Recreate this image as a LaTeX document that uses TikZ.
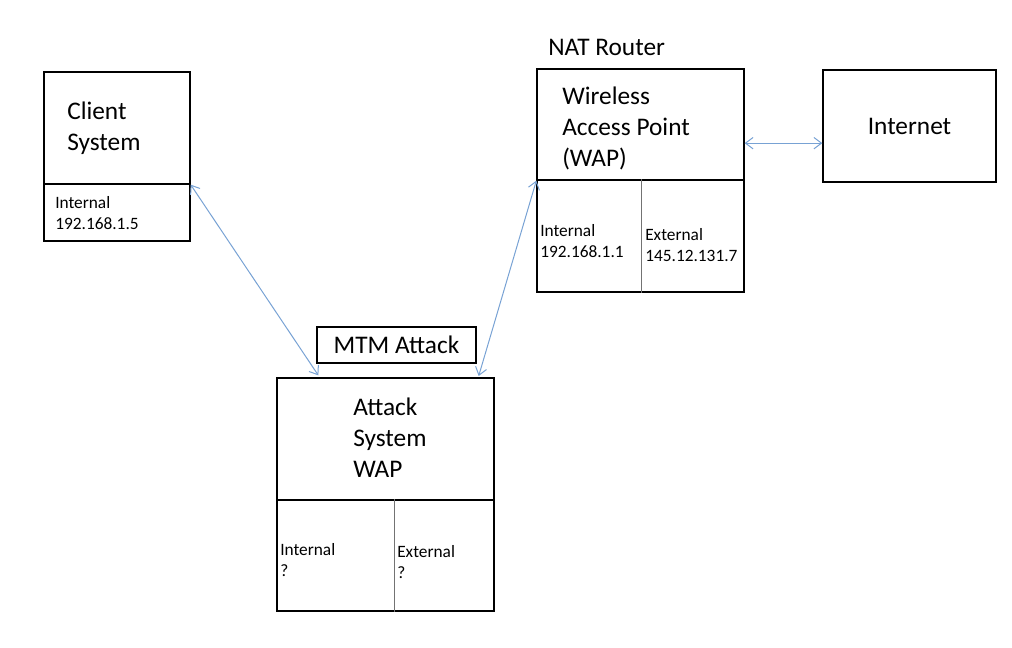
\documentclass[tikz,border=0pt]{standalone}
\usepackage{fontspec}
\setmainfont{Carlito}
\definecolor{linkblau}{RGB}{120,162,212}
\usepackage{tikz}
\usetikzlibrary{arrows.meta, positioning}

\begin{document}
\begin{tikzpicture}[
    x=0.75pt, y=-0.75pt,
    box/.style={rectangle, draw=black, line width=1pt, inner sep=0pt},
    divider/.style={draw=black!55, line width=0.75pt},
    big/.style={inner sep=0pt, align=left, font=\fontsize{19pt}{23.25pt}\selectfont},
    small/.style={inner sep=0pt, align=left, font=\fontsize{13pt}{15.75pt}\selectfont},
    arr/.style={{Straight Barb[length=2mm, width=3mm]}-{Straight Barb[length=2mm, width=3mm]},
                linkblau, line width=0.75pt}
  ]
  \useasboundingbox (0,0) rectangle (1012,648);

  % client
  \node[box, minimum width=109.5pt, minimum height=84pt] (client) at (117,128) {};
  \node[box, minimum width=109.5pt, minimum height=42.75pt] (clientip) at (117,212.5) {};
  \node[big, anchor=west] (clienttxt) at (67,128) {Client\\System};
  \node[small, anchor=west] (clientint) at (55,213.5) {Internal\\192.168.1.5};

  % NAT router
  \node[big, anchor=west] (natlbl) at (548,47) {NAT Router};
  \node[box, minimum width=155.25pt, minimum height=83.25pt] (nat) at (640.5,124.5) {};
  \node[box, minimum width=155.25pt, minimum height=84pt] (natip) at (640.5,236) {};
  \draw[divider] (natip.north -| 641,0) -- (natip.south -| 641,0);
  \node[big, anchor=west] (nattxt) at (562,128.5) {Wireless\\Access Point\\(WAP)};
  \node[small, anchor=west] (natint) at (540,241.5) {Internal\\192.168.1.1};
  \node[small, anchor=west] (natext) at (645,245) {External\\145.12.131.7};

  % internet
  \node[box, big, align=center, minimum width=129.75pt, minimum height=84pt] (inet) at (909.5,126) {Internet};

  % attacker
  \node[box, big, align=center, minimum width=119.25pt, minimum height=27pt] (mtm) at (396.5,345) {MTM Attack};
  \node[box, minimum width=162.75pt, minimum height=91.5pt] (att) at (385.5,439) {};
  \node[box, minimum width=162.75pt, minimum height=83.25pt] (attip) at (385.5,555.5) {};
  \draw[divider] (attip.north -| 394,0) -- (attip.south -| 394,0);
  \node[big, anchor=west] (atttxt) at (353,438) {Attack\\System\\WAP};
  \node[small, anchor=west] (attint) at (280,560) {Internal\\?};
  \node[small, anchor=west] (attext) at (397,562) {External\\?};

  \draw[arr] (client.south east) -- ([xshift=31.5pt, yshift=1.5pt]att.north west);
  \draw[arr] ([xshift=-12pt, yshift=1pt]att.north east) -- (nat.south west);
  \draw[arr] ([yshift=-14pt]nat.east) -- ([yshift=-14pt]nat.east -| inet.west);
\end{tikzpicture}
\end{document}
